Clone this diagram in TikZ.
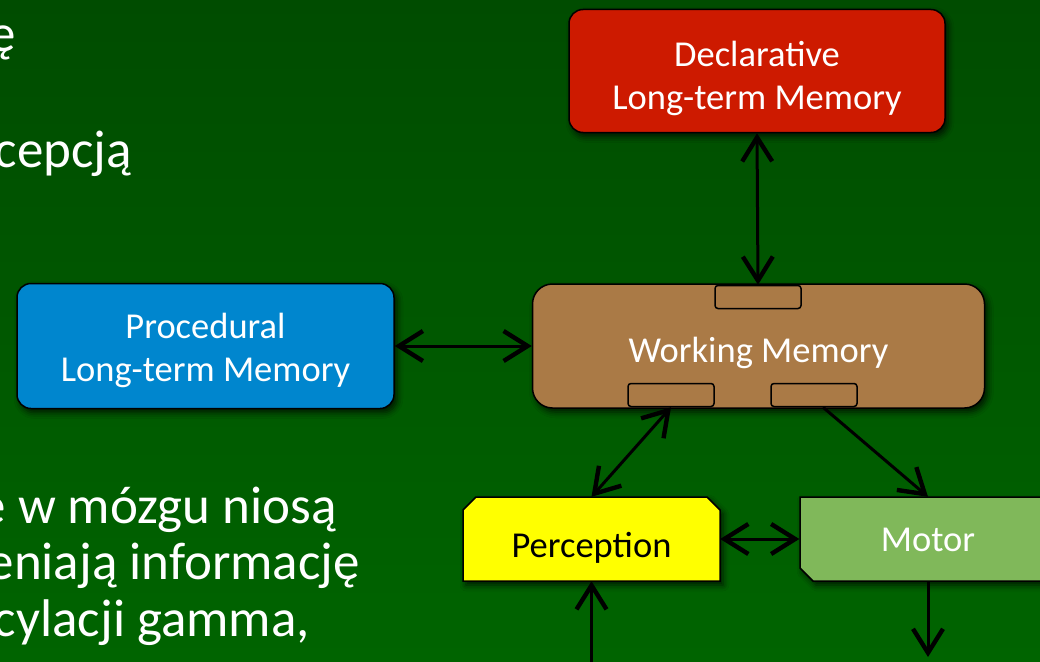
\documentclass[tikz,border=0pt]{standalone}
\usepackage{fontspec}
\setmainfont{Carlito}
\usetikzlibrary{arrows.meta,shadows.blur}

\definecolor{bgtop}{RGB}{0,76,0}
\definecolor{bgbot}{RGB}{0,100,0}
\definecolor{declred}{RGB}{205,26,0}
\definecolor{procblue}{RGB}{0,134,206}
\definecolor{wmbrown}{RGB}{170,122,70}
\definecolor{percyellow}{RGB}{255,255,0}
\definecolor{motorgreen}{RGB}{128,184,90}

\tikzset{
  boxshadow/.style={blur shadow={shadow xshift=3pt,shadow yshift=-4pt,
      shadow blur radius=6pt,shadow opacity=75}},
  modulebox/.style={draw=black,line width=1.5pt,inner sep=0pt,boxshadow},
  boxtext/.style={text=white,inner sep=0pt,align=center,
      font=\fontsize{36.5}{43}\selectfont},
  anchorbox/.style={inner sep=0pt,minimum width=257pt,minimum height=84pt},
  slotbox/.style={draw=black,line width=1.5pt,fill=wmbrown,rounded corners=3pt,
      inner sep=0pt,minimum width=86pt,minimum height=23pt},
  barb/.tip={Straight Barb[length=24pt,width=30pt,line width=4.4pt]},
  link/.style={line width=3pt,arrows={barb-barb}},
  onelink/.style={line width=3pt,arrows={-barb}},
  slidetext/.style={text=white,inner sep=0pt,anchor=base east,
      font=\fontsize{53}{58}\selectfont},
}

\begin{document}
\begin{tikzpicture}[x=1pt,y=-1pt]
\useasboundingbox (0,0) rectangle (1040,661);
\clip (0,0) rectangle (1040,661);
\fill[top color=bgtop,bottom color=bgbot] (0,0) rectangle (1040,661);

% running slide text on the left
\node[slidetext] (t1) at (16,52) {ę};
\node[slidetext] (t2) at (132,167) {cepcją};
\node[slidetext] (t3) at (337,523) {e w mózgu niosą};
\node[slidetext] (t4) at (360,579) {eniają informację};
\node[slidetext] (t5) at (310,636) {cylacji gamma,};

% memory modules
\node[modulebox,fill=declred,rounded corners=14pt,minimum width=376pt,minimum height=123pt]
  (decl) at (757,71) {};
\node[boxtext] (declT) at ([yshift=-7pt]decl.center) {Declarative\\Long-term Memory};
\node[modulebox,fill=procblue,rounded corners=14pt,minimum width=377pt,minimum height=125pt]
  (proc) at (205.5,346) {};
\node[boxtext] (procT) at ([yshift=-4pt]proc.center) {Procedural\\Long-term Memory};
\node[modulebox,fill=wmbrown,rounded corners=20pt,minimum width=452pt,minimum height=124pt]
  (wm) at (758.5,346) {};
\node[boxtext] (wmT) at ([yshift=-7pt]wm.center) {Working Memory};

% buffers on the working memory
\node[slotbox] (wmtop) at (758,297) {};
\node[slotbox] (wmbl) at (671,395) {};
\node[slotbox] (wmbr) at (814,395) {};

% perception module: top corners cut off
\path[modulebox,fill=percyellow]
  (463,510) -- (476,497) -- (707,497) -- (720,510) -- (720,581) -- (463,581) -- cycle;
\node[anchorbox] (perc) at (591.5,539) {};
\node[boxtext,text=black] (percT) at ([yshift=-9pt]perc.center) {Perception};

% motor module: bottom-left corner cut off, runs on past the right edge
\path[modulebox,fill=motorgreen]
  (800,497) -- (1080,497) -- (1080,581) -- (813,581) -- (800,568) -- cycle;
\node[anchorbox] (motor) at (928,539) {};
\node[boxtext] (motorT) at ([yshift=-1pt]motor.center) {Motor};

\coordinate (pin) at (591.5,680);
\coordinate (mout) at (928,657);

% connections
\draw[link] (decl.south) -- (wmtop.north);
\draw[link] (proc.east) -- (wm.west);
\draw[link] (wmbl.south) -- (perc.north);
\draw[onelink] ([xshift=9pt]wmbr.south) -- (motor.north);
\draw[link] (perc.east) -- (motor.west);
\draw[onelink] (pin) -- (perc.south);
\draw[onelink] (motor.south) -- (mout);
\end{tikzpicture}
\end{document}
